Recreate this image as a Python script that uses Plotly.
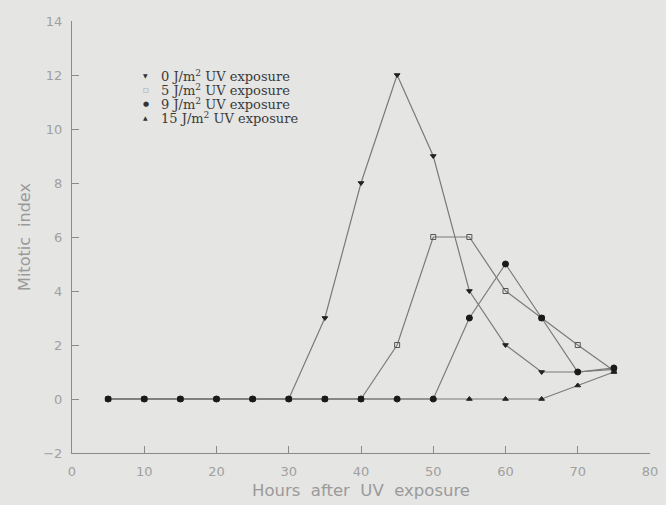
import plotly.graph_objects as go

hours = [5, 10, 15, 20, 25, 30, 35, 40, 45, 50, 55, 60, 65, 70, 75]
uv0 = [0, 0, 0, 0, 0, 0, 3, 8, 12, 9, 4, 2, 1, 1, 1.1]
uv5 = [0, 0, 0, 0, 0, 0, 0, 0, 2, 6, 6, 4, 3, 2, 1.05]
uv15 = [0, 0, 0, 0, 0, 0, 0, 0, 0, 0, 0, 0, 0, 0.5, 1.0]
uv9 = [0, 0, 0, 0, 0, 0, 0, 0, 0, 0, 3, 5, 3, 1, 1.15]

labels = ["0 J/m<sup>2</sup>\u00a0UV exposure", "5 J/m<sup>2</sup>\u00a0UV exposure",
          "9 J/m<sup>2</sup>\u00a0UV exposure", "15 J/m<sup>2</sup>\u00a0UV exposure"]
key_glyphs = ["▼", "□", "●", "▲"]

series = [
    (labels[0], uv0, "triangle-down", "#222222"),
    (labels[1], uv5, "square-open", "#555555"),
    (labels[2], uv9, "circle", "#1a1a1a"),
    (labels[3], uv15, "triangle-up", "#222222"),
]
draw_order = [0, 1, 3, 2]

bg = "#e5e5e3"
fig = go.Figure()
for i in draw_order:
    name, ys, sym, col = series[i]
    fig.add_trace(go.Scatter(
        x=hours, y=ys, mode="lines+markers", name=name, showlegend=False,
        line=dict(color="#7a7a7a", width=1.2),
        marker=dict(symbol=sym, size=5 if sym != "circle" else 6, color=col,
                    line=dict(color=col, width=1)),
    ))

# legend drawn as text rows
row_top = 0.873
row_step = 14 / 432
for i, (lab, g) in enumerate(zip(labels, key_glyphs)):
    y = row_top - i * row_step
    fig.add_annotation(xref="paper", yref="paper", x=0.128, y=y, text=g,
                       showarrow=False, xanchor="center", yanchor="middle",
                       font=dict(family="DejaVu Sans", size=6 if g != "●" else 7,
                                 color="#333333" if g != "□" else "#777777"))
    fig.add_annotation(xref="paper", yref="paper", x=0.150, y=y, text=lab,
                       showarrow=False, xanchor="left", yanchor="middle",
                       font=dict(family="DejaVu Serif", size=13, color="#3a3a3a"))

tick_font = dict(family="DejaVu Sans", size=13, color="#a0a0a0")
axis_common = dict(
    showgrid=False, zeroline=False, showline=True, linecolor="#8a8a8a", linewidth=1.2,
    ticks="inside", ticklen=7, tickcolor="#8a8a8a", tickwidth=1,
    tickfont=tick_font, ticklabeloverflow="allow",
)
title_font = dict(family="DejaVu Sans", size=16, color="#9a9a9a")
fig.update_layout(
    width=666, height=505,
    margin=dict(l=72, r=8, t=21, b=52),
    paper_bgcolor=bg, plot_bgcolor=bg,
    showlegend=False,
    xaxis=dict(range=[0, 80], dtick=10, tick0=0, ticklabelstandoff=6,
               title=dict(text="Hours  after  UV  exposure", standoff=6,
                          font=dict(family="DejaVu Sans", size=16.5, color="#9a9a9a")),
               **axis_common),
    yaxis=dict(range=[-2, 14], dtick=2, tick0=0, ticklabelstandoff=6,
               title=dict(text="Mitotic  index", standoff=8, font=title_font),
               **axis_common),
)
fig.write_html("out.html")
